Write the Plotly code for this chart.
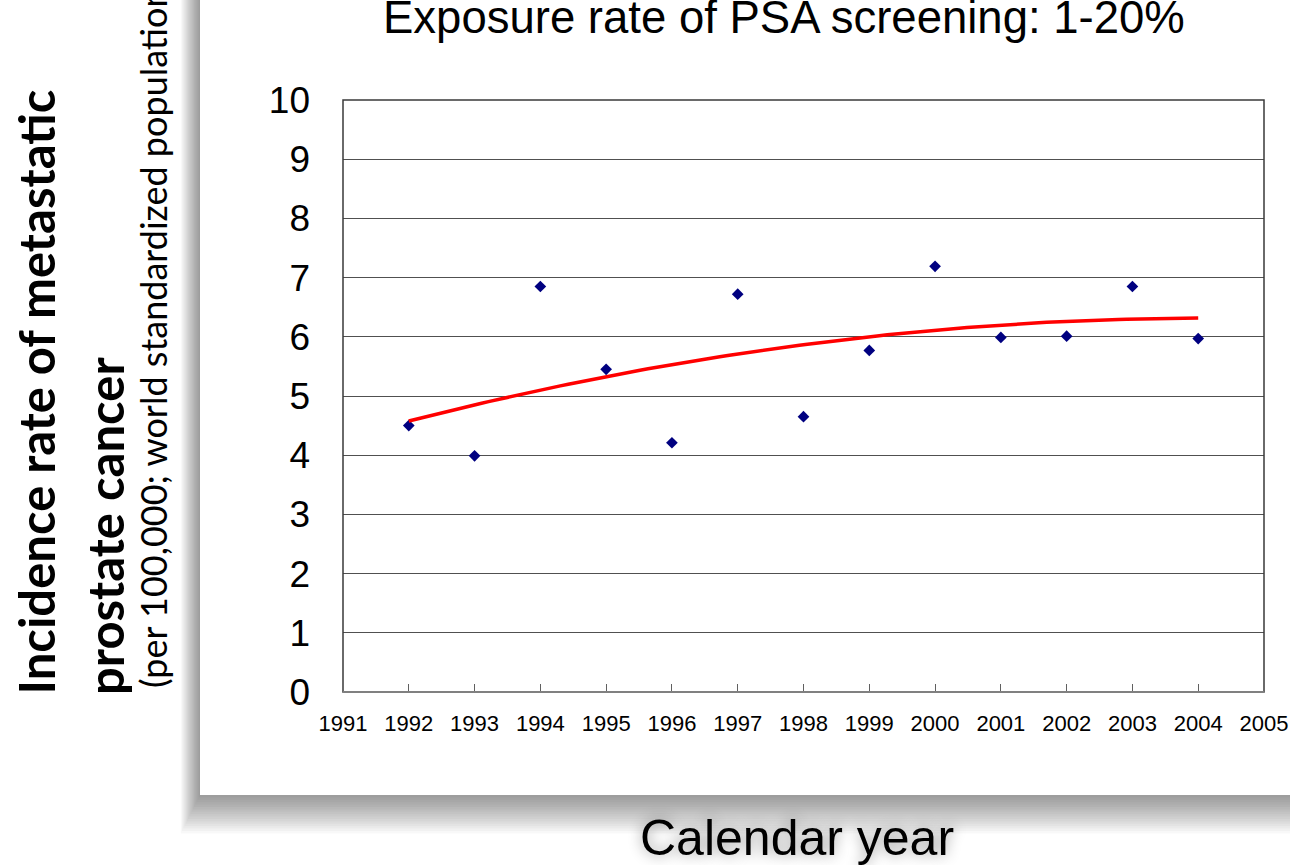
import numpy as np
import plotly.graph_objects as go

# ---- data ----
years = [1992, 1993, 1994, 1995, 1996, 1997, 1998, 1999, 2000, 2001, 2002, 2003, 2004]
incidence = [4.50, 3.99, 6.85, 5.45, 4.21, 6.72, 4.65, 5.77, 7.19, 5.99, 6.01, 6.85, 5.97]
x_ticks = list(range(1991, 2006))
y_ticks = list(range(0, 11))

title_text = "Exposure rate of PSA screening: 1-20%"
x_title = "Calendar year"
y_title_1 = "Incidence rate of metastatic"
y_title_2 = "prostate cancer"
y_title_3 = "(per 100,000; world standardized population)"

W, H = 1290, 865

def px(x):
    return x / W

def py(y):
    return 1 - y / H

# quadratic trend line (Excel polynomial order 2)
coef = np.polyfit(np.array(years, float) - 1998, incidence, 2)
tx = np.linspace(years[0], years[-1], 100)
ty = np.polyval(coef, tx - 1998)

fig = go.Figure()
fig.add_trace(go.Scatter(x=years, y=incidence, mode="markers",
                         marker=dict(symbol="diamond", size=9, color="#000080"),
                         showlegend=False, hoverinfo="skip"))
fig.add_trace(go.Scatter(x=tx, y=ty, mode="lines",
                         line=dict(color="#ff0000", width=3.5),
                         showlegend=False, hoverinfo="skip"))

shapes = []
# panel drop shadow
N = 16
for i in range(N, 0, -1):
    shapes.append(dict(type="rect", xref="paper", yref="paper", layer="below",
                       x0=px(200 - 1.2 * i), x1=px(1300), y0=py(795 + 2.4 * i), y1=py(-20),
                       line=dict(width=0), fillcolor="rgba(0,0,0,0.026)"))
# white panel
shapes.append(dict(type="rect", xref="paper", yref="paper", layer="below",
                   x0=px(200), x1=px(1300), y0=py(795), y1=py(-20),
                   line=dict(width=0), fillcolor="white"))
# plot border
shapes.append(dict(type="rect", xref="x domain", yref="y domain",
                   x0=0, x1=1, y0=0, y1=1, line=dict(color="#3a3a3a", width=1.5)))
shapes.append(dict(type="line", xref="x domain", yref="y domain",
                   x0=0, x1=1, y0=0, y1=0, line=dict(color="#808080", width=2)))

annotations = [
    dict(text=title_text, xref="paper", yref="paper", x=px(784), y=py(45),
         xanchor="center", yanchor="bottom", showarrow=False,
         font=dict(family="Liberation Sans, Arial", size=45.5, color="black")),
    dict(text=x_title, xref="paper", yref="paper", x=px(797), y=py(838),
         xanchor="center", yanchor="middle", showarrow=False,
         font=dict(family="Liberation Sans, Arial", size=50, color="black",
                   shadow="0px 0px 14px rgba(0,0,0,0.45)")),
    dict(text="<b>" + y_title_1 + "</b>", xref="paper", yref="paper", x=px(35), y=py(697),
         xanchor="center", yanchor="bottom", showarrow=False, textangle=-90,
         font=dict(family="Lato, Open Sans", size=49, color="black")),
    dict(text="<b>" + y_title_2 + "</b>", xref="paper", yref="paper", x=px(105), y=py(697),
         xanchor="center", yanchor="bottom", showarrow=False, textangle=-90,
         font=dict(family="Lato, Open Sans", size=49, color="black")),
    dict(text=y_title_3, xref="paper", yref="paper", x=px(153), y=py(690),
         xanchor="center", yanchor="bottom", showarrow=False, textangle=-90,
         font=dict(family="Lato, Open Sans", size=36, color="black")),
]

fig.update_layout(
    width=W, height=H, autosize=False,
    margin=dict(l=0, r=0, t=0, b=0),
    paper_bgcolor="white", plot_bgcolor="rgba(0,0,0,0)",
    shapes=shapes, annotations=annotations,
    xaxis=dict(domain=[px(343), px(1264)], range=[1991, 2005],
               tickmode="array", tickvals=x_ticks, ticktext=[str(v) for v in x_ticks],
               ticks="inside", ticklen=8, tickcolor="#606060", tickwidth=1,
               showgrid=False, zeroline=False, showline=False, automargin=False,
               ticklabelstandoff=16, ticklabeloverflow="allow",
               tickfont=dict(family="Liberation Sans, Arial", size=22, color="black")),
    yaxis=dict(domain=[py(692), py(100)], range=[0, 10],
               tickmode="array", tickvals=y_ticks, ticktext=[str(v) for v in y_ticks],
               ticks="", showgrid=True, gridcolor="#505050", gridwidth=1,
               zeroline=False, showline=False, automargin=False,
               ticklabelstandoff=32, ticklabeloverflow="allow",
               tickfont=dict(family="Liberation Sans, Arial", size=37, color="black")),
)

fig.write_html("out.html", config={"displayModeBar": False},
               post_script="document.body.style.margin='0';document.body.style.overflow='hidden';")
